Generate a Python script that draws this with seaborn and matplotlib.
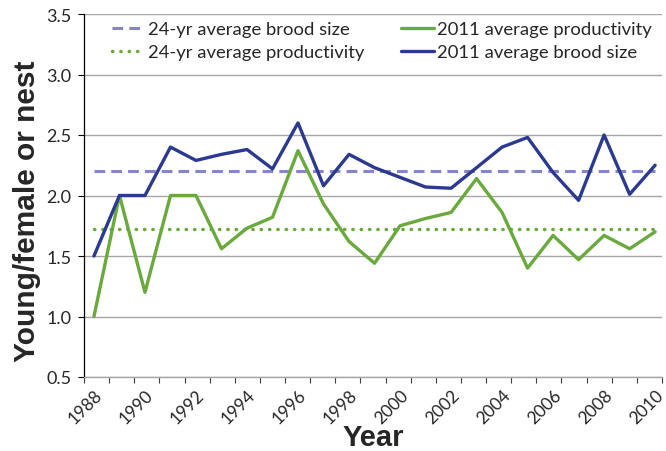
import matplotlib
matplotlib.use("Agg")
import matplotlib.pyplot as plt
import numpy as np
import pandas as pd
import seaborn as sns

# values
years = list(range(1988, 2011))
brood_size = [1.50, 2.00, 2.00, 2.40, 2.29, 2.34, 2.38, 2.22, 2.60, 2.08, 2.34, 2.23,
              2.15, 2.07, 2.06, 2.23, 2.40, 2.48, 2.19, 1.96, 2.50, 2.01, 2.25]
productivity = [1.00, 2.00, 1.20, 2.00, 2.00, 1.56, 1.73, 1.82, 2.37, 1.93, 1.62, 1.44,
                1.75, 1.81, 1.86, 2.14, 1.86, 1.40, 1.67, 1.47, 1.67, 1.56, 1.70]
avg_brood_size = 2.20
avg_productivity = 1.72
label_years = list(range(1988, 2011, 2))
y_ticks = [0.5, 1.0, 1.5, 2.0, 2.5, 3.0, 3.5]

BLUE = "#2b3990"
GREEN = "#6aaa3c"
LAVENDER = "#8585c9"
GRID = "#a6a6a6"

sns.set_style("white")
plt.rcParams["font.family"] = ["Lato", "DejaVu Sans"]

df = pd.DataFrame({
    "year": years,
    "brood": brood_size,
    "prod": productivity,
    "avg_brood": [avg_brood_size] * len(years),
    "avg_prod": [avg_productivity] * len(years),
})

fig = plt.figure(figsize=(6.66, 4.52), dpi=100)
ax = fig.add_axes([84 / 666, 1 - 378 / 452, 578 / 666, 363 / 452])

sns.lineplot(data=df, x="year", y="avg_brood", ax=ax, color=LAVENDER, lw=2.2,
             label="24-yr average brood size")
ax.lines[-1].set_dashes([3.5, 2])
sns.lineplot(data=df, x="year", y="avg_prod", ax=ax, color=GREEN, lw=2.5,
             label="24-yr average productivity")
ax.lines[-1].set_dashes([0.1, 2.3])
ax.lines[-1].set_dash_capstyle("round")
sns.lineplot(data=df, x="year", y="prod", ax=ax, color=GREEN, lw=2.4,
             label="2011 average productivity")
sns.lineplot(data=df, x="year", y="brood", ax=ax, color=BLUE, lw=2.4,
             label="2011 average brood size")

x0, x1 = years[0] - 0.39, years[-1] + 0.27
ax.set_xlim(x0, x1)
ax.set_ylim(0.5, 3.5)
ax.set_yticks(y_ticks)
ax.set_yticklabels([f"{v:.1f}" for v in y_ticks], fontsize=13)
ax.yaxis.grid(True, color=GRID, lw=1)
ax.set_axisbelow(True)

ax.set_xticks(label_years)
ax.set_xticklabels([str(y) for y in label_years], rotation=45, ha="right",
                   rotation_mode="anchor", fontsize=12.5)
ax.set_xticks(np.linspace(x0, x1, 24), minor=True)
ax.tick_params(axis="x", which="major", length=0, pad=7)
ax.tick_params(axis="x", which="minor", length=4, width=0.8, color="#404040",
               direction="out", bottom=True)
ax.tick_params(axis="y", length=4, width=0.8, color="black", direction="out",
               left=True, pad=5)

for s in ["top", "right"]:
    ax.spines[s].set_visible(False)
ax.spines["left"].set_color("black")
ax.spines["left"].set_linewidth(0.9)
ax.spines["bottom"].set_color(GRID)
ax.spines["bottom"].set_linewidth(1)

ax.set_xlabel("Year", fontsize=21, fontweight="bold", family="Liberation Sans")
ax.xaxis.set_label_coords(0.5, -0.128)
ax.set_ylabel("Young/female or nest", fontsize=21.5, fontweight="bold",
              family="Liberation Sans", labelpad=4, y=0.46)

handles, labels = ax.get_legend_handles_labels()
ax.legend(handles, labels, ncol=2, frameon=False, loc="upper left",
          bbox_to_anchor=(112 / 666, 1 - 22 / 452), bbox_transform=fig.transFigure,
          fontsize=13.3, handlelength=1.75, handletextpad=0.2, columnspacing=2.0,
          labelspacing=0.4, borderpad=0, borderaxespad=0)

fig.savefig("out.png", dpi=100)
